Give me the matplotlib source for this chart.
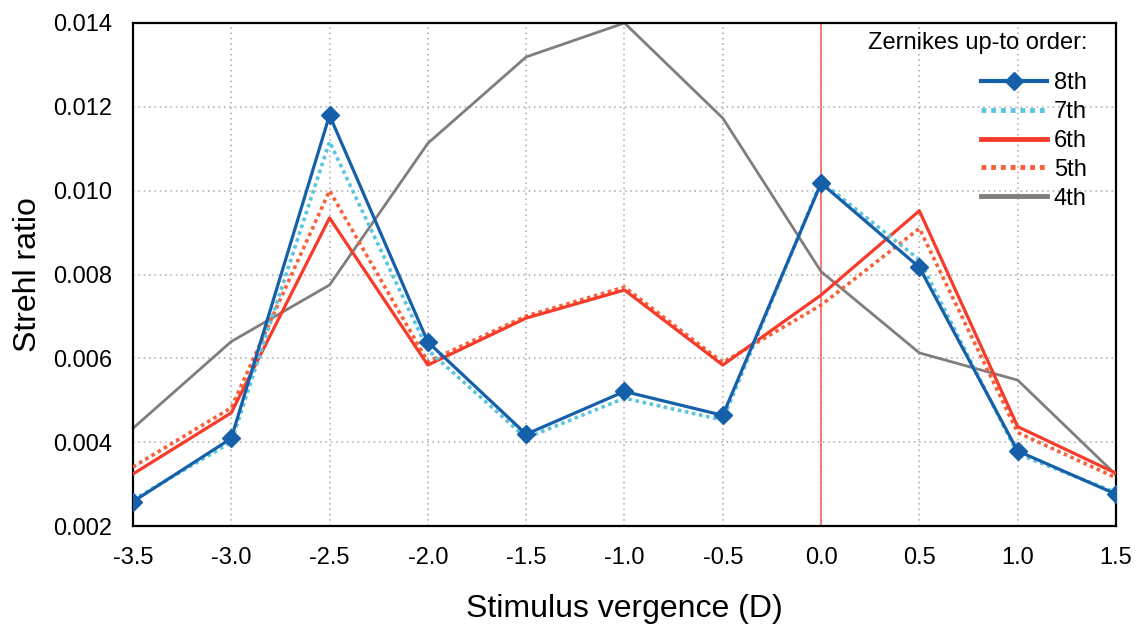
import matplotlib
matplotlib.use('Agg')
import matplotlib.pyplot as plt
from matplotlib.lines import Line2D

plt.rcParams['font.family'] = ['Liberation Sans', 'DejaVu Sans']

# Stimulus vergence (D)
vergence = [-3.5, -3.0, -2.5, -2.0, -1.5, -1.0, -0.5, 0.0, 0.5, 1.0, 1.5]

# Strehl ratio per Zernike order
order_8th = [0.00258, 0.00409, 0.01180, 0.00639, 0.00419, 0.00521, 0.00464, 0.01018, 0.00817, 0.00379, 0.00276]
order_7th = [0.00262, 0.00400, 0.01117, 0.00620, 0.00410, 0.00505, 0.00453, 0.01022, 0.00835, 0.00372, 0.00280]
order_6th = [0.00324, 0.00470, 0.00935, 0.00584, 0.00696, 0.00763, 0.00584, 0.00751, 0.00952, 0.00437, 0.00326]
order_5th = [0.00341, 0.00482, 0.01000, 0.00592, 0.00701, 0.00770, 0.00590, 0.00727, 0.00910, 0.00423, 0.00315]
order_4th = [0.00433, 0.00640, 0.00775, 0.01113, 0.01319, 0.01400, 0.01173, 0.00807, 0.00613, 0.00548, 0.00322]

xticks = [-3.5, -3.0, -2.5, -2.0, -1.5, -1.0, -0.5, 0.0, 0.5, 1.0, 1.5]
yticks = [0.002, 0.004, 0.006, 0.008, 0.010, 0.012, 0.014]

c_blue = '#1560a8'
c_cyan = '#5cc5de'
c_red = '#f73b2b'
c_orange = '#f7613a'
c_gray = '#817d7b'

fig = plt.figure(figsize=(11.36, 6.26), dpi=100)
ax = fig.add_axes([0.117, 0.1597, 0.8654, 0.8036])

ax.axvline(0.0, color='#f06a6a', linewidth=1.2, zorder=1)

ax.plot(vergence, order_4th, color=c_gray, linewidth=2.0, zorder=2)
ax.plot(vergence, order_5th, color=c_orange, linewidth=2.6, linestyle=(0, (1.0, 1.0)), zorder=3)
ax.plot(vergence, order_6th, color=c_red, linewidth=2.3, zorder=4)
ax.plot(vergence, order_7th, color=c_cyan, linewidth=2.6, linestyle=(0, (1.0, 1.0)), zorder=5)
ax.plot(vergence, order_8th, color=c_blue, linewidth=2.3, marker='D', markersize=9, zorder=6)

ax.set_xlim(-3.5, 1.5)
ax.set_ylim(0.002, 0.014)
ax.set_xticks(xticks)
ax.set_xticklabels([f"{v:.1f}" for v in xticks])
ax.set_yticks(yticks)
ax.set_yticklabels([f"{v:.3f}" for v in yticks])
ax.tick_params(axis='both', length=0, labelsize=17, colors='black')
ax.tick_params(axis='x', pad=15)
ax.tick_params(axis='y', pad=15)

ax.grid(True, linestyle=(0, (1, 2.5)), color='#a8a8a8', linewidth=1.1)
ax.set_axisbelow(True)
for sp in ax.spines.values():
    sp.set_linewidth(1.6)
    sp.set_color('black')

ax.set_xlabel('Stimulus vergence (D)', fontsize=23, labelpad=18)
ax.set_ylabel('Strehl ratio', fontsize=23, labelpad=7)

# legend title drawn separately so the gap below it matches
ax.text(0.9705, 0.960, 'Zernikes up-to order:', transform=ax.transAxes,
        ha='right', va='center', fontsize=17, zorder=10)

handles = [
    Line2D([], [], color=c_blue, linewidth=3, marker='D', markersize=9),
    Line2D([], [], color=c_cyan, linewidth=3.5, linestyle=(0, (1.0, 1.0))),
    Line2D([], [], color=c_red, linewidth=3.5),
    Line2D([], [], color=c_orange, linewidth=3.5, linestyle=(0, (1.0, 1.0))),
    Line2D([], [], color=c_gray, linewidth=3.5),
]
labels = ['8th', '7th', '6th', '5th', '4th']
leg = ax.legend(handles, labels, loc='upper right',
                bbox_to_anchor=(0.980, 0.921), frameon=False, fontsize=17,
                handlelength=2.8, handletextpad=0.3,
                labelspacing=0.29, borderaxespad=0.0)

fig.savefig('out.png', dpi=100)
